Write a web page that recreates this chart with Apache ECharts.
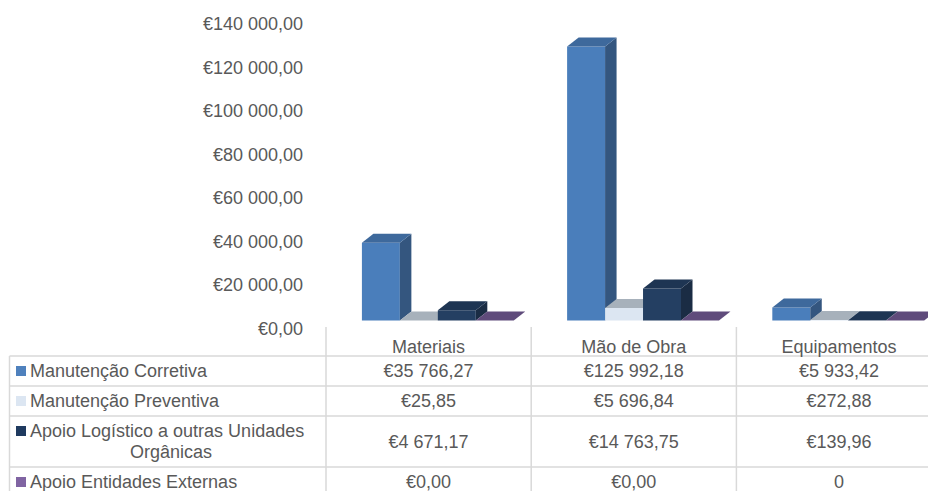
<!DOCTYPE html>
<html>
<head>
<meta charset="utf-8">
<script src="https://cdn.jsdelivr.net/npm/echarts@6/dist/echarts.min.js"></script>
<style>
  html, body { margin: 0; padding: 0; background: #fff; }
  #chart { width: 928px; height: 491px; }
</style>
</head>
<body>
<div id="chart"></div>
<script>
// data
const categories = ['Materiais', 'Mão de Obra', 'Equipamentos'];
const seriesNames = [
  'Manutenção Corretiva',
  'Manutenção Preventiva',
  'Apoio Logístico a outras Unidades\nOrgânicas',
  'Apoio Entidades Externas'
];
const corretiva = [35766.27, 125992.18, 5933.42];
const preventiva = [25.85, 5696.84, 272.88];
const apoioLogistico = [4671.17, 14763.75, 139.96];
const entidadesExternas = [0, 0, 0];
const yMin = 0, yMax = 140000, yStep = 20000;
// cells the source table shows as a plain number: [series, category]
const plainCells = [[3, 2]];

const values = [corretiva, preventiva, apoioLogistico, entidadesExternas];

// face colours for each series: front / side / top, plus table key
const palette = [
  { front: '#4A7EBB', side: '#34567F', top: '#3E699C', key: '#4F81BD' },
  { front: '#DCE6F2', side: '#B9C2CB', top: '#A7B1BB', key: '#DCE6F2' },
  { front: '#243F62', side: '#1A2C44', top: '#1E3553', key: '#1F3A5F' },
  { front: '#8064A2', side: '#5A4774', top: '#5F4B7B', key: '#8064A2' }
];

const TEXT = '#595959';
const FONT = 'Liberation Sans, Arial, sans-serif';
const LIFT = 8;    // front face sits a bit above the axis zero
const DX = 11.5, DY = 9;  // depth of the fake 3d

function eur(v) {
  const parts = Math.abs(v).toFixed(2).split('.');
  return '€' + parts[0].replace(/\B(?=(\d{3})+(?!\d))/g, ' ') + ',' + parts[1];
}

function barRenderer(s) {
  const c = palette[s];
  return function (params, api) {
    const i = api.value(0);
    const zero = api.coord([i, 0]);
    const topY = api.coord([i, api.value(1)])[1];
    const band = api.size([1, 0])[0];
    const w = band * 0.185;
    const x = zero[0] - band / 2 + band * 0.175 + s * w;
    const y0 = zero[1] - LIFT;
    const y1 = topY - LIFT;
    return {
      type: 'group',
      children: [
        { type: 'rect', shape: { x: x, y: y1, width: w, height: y0 - y1 }, style: { fill: c.front } },
        { type: 'polygon', shape: { points: [[x + w, y1], [x + w + DX, y1 - DY], [x + w + DX, y0 - DY], [x + w, y0]] }, style: { fill: c.side } },
        { type: 'polygon', shape: { points: [[x, y1], [x + w, y1], [x + w + DX, y1 - DY], [x + DX, y1 - DY]] }, style: { fill: c.top } }
      ]
    };
  };
}

const chart = echarts.init(document.getElementById('chart'), null, { renderer: 'svg' });

chart.setOption({
  animation: false,
  backgroundColor: '#fff',
  grid: { left: 326, top: 24, right: -13.6, bottom: 162.5, containLabel: false, outerBoundsMode: 'none' },
  xAxis: {
    type: 'category',
    data: categories,
    axisLine: { show: false },
    axisTick: { show: false },
    axisLabel: { color: TEXT, fontSize: 18, fontFamily: FONT, margin: 9, interval: 0 }
  },
  yAxis: {
    type: 'value',
    min: yMin, max: yMax, interval: yStep,
    axisLine: { show: false },
    axisTick: { show: false },
    splitLine: { show: false },
    axisLabel: { color: TEXT, fontSize: 18, fontFamily: FONT, margin: 23, formatter: eur }
  },
  series: values.map((arr, s) => ({
    name: seriesNames[s],
    type: 'custom',
    renderItem: barRenderer(s),
    encode: { x: 0, y: 1 },
    data: arr.map((v, i) => [i, v])
  }))
});

// data table under the plot
const band = chart.convertToPixel({ xAxisIndex: 0 }, 1) - chart.convertToPixel({ xAxisIndex: 0 }, 0);
const colCenters = categories.map((c, i) => chart.convertToPixel({ xAxisIndex: 0 }, i));
const rowLines = [356, 386, 416, 467];
const rowCenters = [371, 401, 441.5, 482];
const tableLeft = 9.5, tableTop = 327;
const line = (x1, y1, x2, y2) => ({
  type: 'line', silent: true,
  shape: { x1: x1, y1: y1, x2: x2, y2: y2 },
  style: { stroke: '#D9D9D9', lineWidth: 1.5 }
});
const text = (str, x, y, align) => ({
  type: 'text', silent: true,
  style: { text: str, x: x, y: y, align: align, verticalAlign: 'middle', fill: TEXT, fontSize: 18, fontFamily: FONT }
});

const graphics = [];
rowLines.forEach(y => graphics.push(line(tableLeft, y, 928, y)));
graphics.push(line(tableLeft, rowLines[0], tableLeft, 491));
colCenters.forEach(cx => graphics.push(line(cx - band / 2, tableTop, cx - band / 2, 491)));

seriesNames.forEach((name, s) => {
  const y = rowCenters[s];
  const lines = name.split('\n');
  const firstY = lines.length > 1 ? y - 10.5 : y;
  graphics.push({
    type: 'rect', silent: true,
    shape: { x: 16, y: firstY - 5, width: 10, height: 10 },
    style: { fill: palette[s].key }
  });
  graphics.push(text(lines[0], 30, firstY, 'left'));
  if (lines.length > 1) graphics.push(text(lines[1], 171, y + 10.5, 'center'));
  values[s].forEach((v, i) => {
    const plain = plainCells.some(p => p[0] === s && p[1] === i);
    graphics.push(text(plain ? String(v) : eur(v), colCenters[i], y, 'center'));
  });
});

chart.setOption({ graphic: graphics });
</script>
</body>
</html>
